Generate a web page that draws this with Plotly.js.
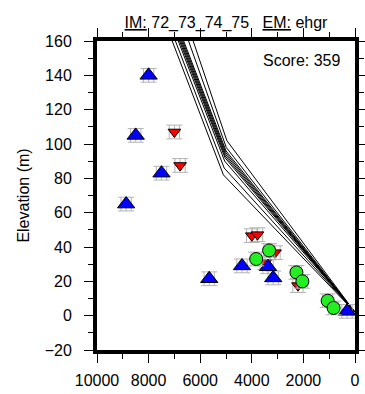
<!DOCTYPE html>
<html><head><meta charset="utf-8">
<script src="https://cdn.plot.ly/plotly-3.0.1.min.js"></script>
<style>html,body{margin:0;padding:0;background:#fff;}#chart{width:365px;height:394px;}</style>
</head><body><div id="chart"></div>
<script>
// Model profiles: start point, knee, point where it leaves the top of the frame
const profileStartX = [0,0,0,0,0,0,0,0,0,0];
const profileStartY = [2,2,2,2,2,2,2,2,2,2];
const profileKneeX = [5100,5070,5050,5040,5030,5020,5010,5000,4990,4967];
const profileKneeY = [82,86,90,92,93,94,95,96,98,102];
const profileTopX  = [7085,6960,6850,6800,6760,6720,6680,6640,6450,6272];
const profileTopY  = [160,160,160,160,160,160,160,160,160,160];

// Observations
const blueX = [8000,8500,7500,8870,5650,4380,3370,3170,310];
const blueY = [140,105,83,65,21.5,29,28.5,22,2.5];
const redX = [7000,6780,4000,3780,3100,3480,2210];
const redY = [107,87.5,46.6,47.2,36.7,30.9,17.5];
const greenX = [3330,3830,2270,2040,1060,830];
const greenY = [38,33,25.2,20,8.7,4.5];

const xErr = 200, yErr = 4;
const titleText = "<u>IM:</u> 72_73_74_75\u00a0\u00a0\u00a0<u>EM:</u> ehgr";
const scoreText = "Score: 359";
const yTitle = "Elevation (m)";
const xTicks = [10000,8000,6000,4000,2000,0];
const yTicks = [-20,0,20,40,60,80,100,120,140,160];

const FONT = "Liberation Sans, Arial, Helvetica, sans-serif";
const errStyleX = {type:'constant', value:xErr, color:'#b4b4b4', thickness:1, width:7};
const errStyleY = {type:'constant', value:yErr, color:'#b4b4b4', thickness:1, width:8};

const traces = [];
for (let i = 0; i < profileKneeX.length; i++) {
  traces.push({
    x:[profileStartX[i], profileKneeX[i], profileTopX[i]],
    y:[profileStartY[i], profileKneeY[i], profileTopY[i]],
    mode:'lines', line:{color:'#000', width:1}, hoverinfo:'skip', showlegend:false
  });
}
traces.push({x:redX, y:redY, mode:'markers', showlegend:false,
  error_x:errStyleX, error_y:errStyleY,
  marker:{symbol:'triangle-down', size:11, color:'#ff0000', line:{color:'#000', width:1}}});
traces.push({x:blueX, y:blueY, mode:'markers', showlegend:false,
  error_x:errStyleX, error_y:errStyleY,
  marker:{symbol:'triangle-up', size:15, color:'#0000ff', line:{color:'#000', width:1}}});
traces.push({x:greenX, y:greenY, mode:'markers', showlegend:false,
  error_x:errStyleX, error_y:errStyleY,
  marker:{symbol:'circle', size:13, color:'#22ee22', line:{color:'#000', width:1}}});

const layout = {
  width:365, height:394,
  margin:{l:97, r:10, t:41, b:44, pad:0},
  paper_bgcolor:'#fff', plot_bgcolor:'#fff',
  font:{family:FONT, size:16, color:'#000'},
  title:{text:titleText, x:0.5, xref:'paper', xanchor:'center', y:1, yref:'paper', yanchor:'bottom', pad:{b:13}, font:{family:FONT, size:16, color:'#000'}},
  xaxis:{range:[10000,0], autorange:false, tickvals:xTicks, ticktext:xTicks.map(String),
    ticks:'outside', ticklen:9, tickwidth:1, tickcolor:'#000', ticklabelstandoff:4,
    minor:{dtick:1000, ticks:'outside', ticklen:5, tickwidth:1, tickcolor:'#000'},
    showline:true, linewidth:4, linecolor:'#000', mirror:'ticks',
    showgrid:false, zeroline:false, tickfont:{size:16}},
  yaxis:{range:[-20,160], autorange:false, tickvals:yTicks,
    ticks:'outside', ticklen:9, tickwidth:1, tickcolor:'#000', ticklabelstandoff:9,
    minor:{dtick:10, ticks:'outside', ticklen:5, tickwidth:1, tickcolor:'#000'},
    showline:true, linewidth:4, linecolor:'#000', mirror:'ticks',
    showgrid:false, zeroline:false, tickfont:{size:16},
    title:{text:yTitle, standoff:12, font:{size:16}}},
  annotations:[{text:scoreText, xref:'paper', yref:'paper', x:0.95, y:0.97, xanchor:'right', yanchor:'top', showarrow:false, font:{size:16}}]
};
Plotly.newPlot('chart', traces, layout, {staticPlot:true, displayModeBar:false});
</script></body></html>
